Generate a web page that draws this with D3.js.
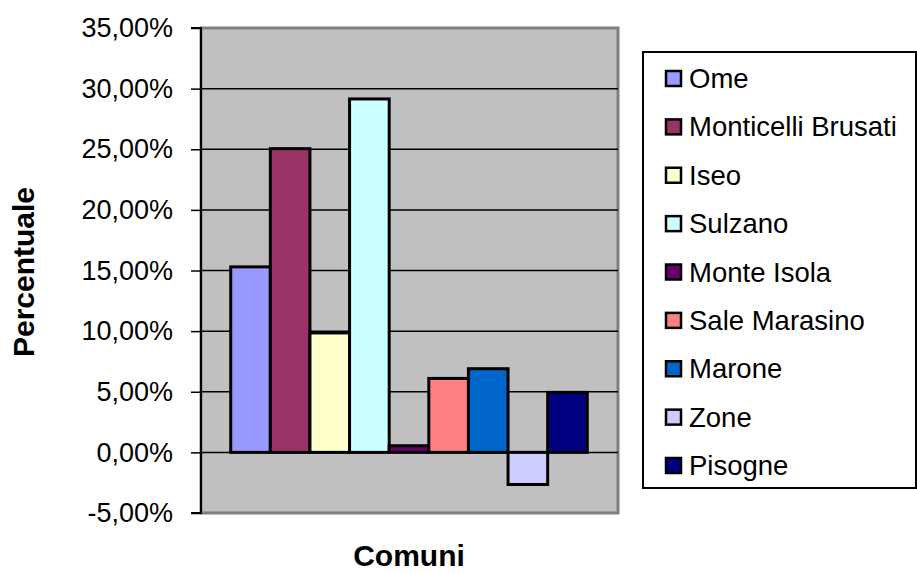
<!DOCTYPE html>
<html>
<head>
<meta charset="utf-8">
<script src="https://cdn.jsdelivr.net/npm/d3@7"></script>
<style>
  body { margin: 0; background: #fff; }
  text { font-family: "Liberation Sans", Arial, sans-serif; }
</style>
</head>
<body>
<script>
// one category, nine series (Excel style clustered column)
const comuni = ["Ome", "Monticelli Brusati", "Iseo", "Sulzano", "Monte Isola",
                "Sale Marasino", "Marone", "Zone", "Pisogne"];
const valori = [15.3, 25.05, 9.85, 29.15, 0.55, 6.1, 6.9, -2.65, 4.95];
const colori = ["#9999ff", "#993366", "#ffffcc", "#ccffff", "#660066",
                "#ff8080", "#0066cc", "#ccccff", "#000080"];
const ticks = [-5, 0, 5, 10, 15, 20, 25, 30, 35];

const width = 917, height = 573;
const plot = {left: 201, right: 618, top: 28, bottom: 513};

const svg = d3.select("body").append("svg")
    .attr("width", width)
    .attr("height", height);

const y = d3.scaleLinear().domain([-5, 35]).range([plot.bottom, plot.top]);

// gap width 150% -> padding of 0.75 bar on each side
const x = d3.scaleBand().domain(comuni)
    .range([plot.left, plot.right - 1])
    .paddingInner(0).paddingOuter(0.75);

// plot area
svg.append("rect")
    .attr("x", plot.left).attr("y", plot.top)
    .attr("width", plot.right - plot.left).attr("height", plot.bottom - plot.top)
    .attr("fill", "#c0c0c0")
    .attr("stroke", "#808080").attr("stroke-width", 3);

// gridlines
svg.append("g").selectAll("line").data(ticks.filter(t => t > -5 && t < 35))
    .enter().append("line")
    .attr("x1", plot.left).attr("x2", plot.right)
    .attr("y1", d => y(d)).attr("y2", d => y(d))
    .attr("stroke", "#000").attr("stroke-width", 1.5);

// bars
svg.append("g").selectAll("rect").data(comuni)
    .enter().append("rect")
    .attr("x", d => x(d))
    .attr("width", x.bandwidth())
    .attr("y", (d, i) => y(Math.max(0, valori[i])))
    .attr("height", (d, i) => Math.abs(y(valori[i]) - y(0)))
    .attr("fill", (d, i) => colori[i])
    .attr("stroke", "#000").attr("stroke-width", 3);

// y axis, italian format with plain hyphen for negatives
const fmt = d => (d < 0 ? "-" : "") + Math.abs(d).toFixed(2).replace(".", ",") + "%";
const yAxis = d3.axisLeft(y).tickValues(ticks).tickSize(10).tickPadding(18)
    .tickFormat(fmt);
const ga = svg.append("g").attr("transform", "translate(" + plot.left + ",0)").call(yAxis);
ga.select(".domain").attr("stroke", "#000").attr("stroke-width", 2)
    .attr("d", "M-10," + plot.top + "H0V" + plot.bottom + "H-10");
ga.selectAll(".tick line").attr("stroke-width", 1.5);
ga.selectAll(".tick text").attr("font-size", 27).attr("fill", "#000")
    .attr("font-family", "'Liberation Sans', Arial, sans-serif");

// axis titles
svg.append("text")
    .attr("transform", "translate(34,272) rotate(-90)")
    .attr("text-anchor", "middle")
    .attr("font-size", 30).attr("font-weight", "bold")
    .text("Percentuale");

svg.append("text")
    .attr("x", 409).attr("y", 566)
    .attr("text-anchor", "middle")
    .attr("font-size", 30).attr("font-weight", "bold")
    .text("Comuni");

// legend
const legend = svg.append("g");
legend.append("rect")
    .attr("x", 643).attr("y", 52)
    .attr("width", 273).attr("height", 436)
    .attr("fill", "#fff").attr("stroke", "#000").attr("stroke-width", 2);

const ly = d3.scalePoint().domain(comuni).range([78, 465]);
const items = legend.selectAll("g.item").data(comuni)
    .enter().append("g").classed("item", true)
    .attr("transform", d => "translate(0," + ly(d) + ")");
items.append("rect")
    .attr("x", 666).attr("y", -7)
    .attr("width", 15).attr("height", 15)
    .attr("fill", (d, i) => colori[i])
    .attr("stroke", "#000").attr("stroke-width", 2.5);
items.append("text")
    .attr("x", 689).attr("y", 10)
    .attr("font-size", 27.5)
    .text(d => d);
</script>
</body>
</html>
